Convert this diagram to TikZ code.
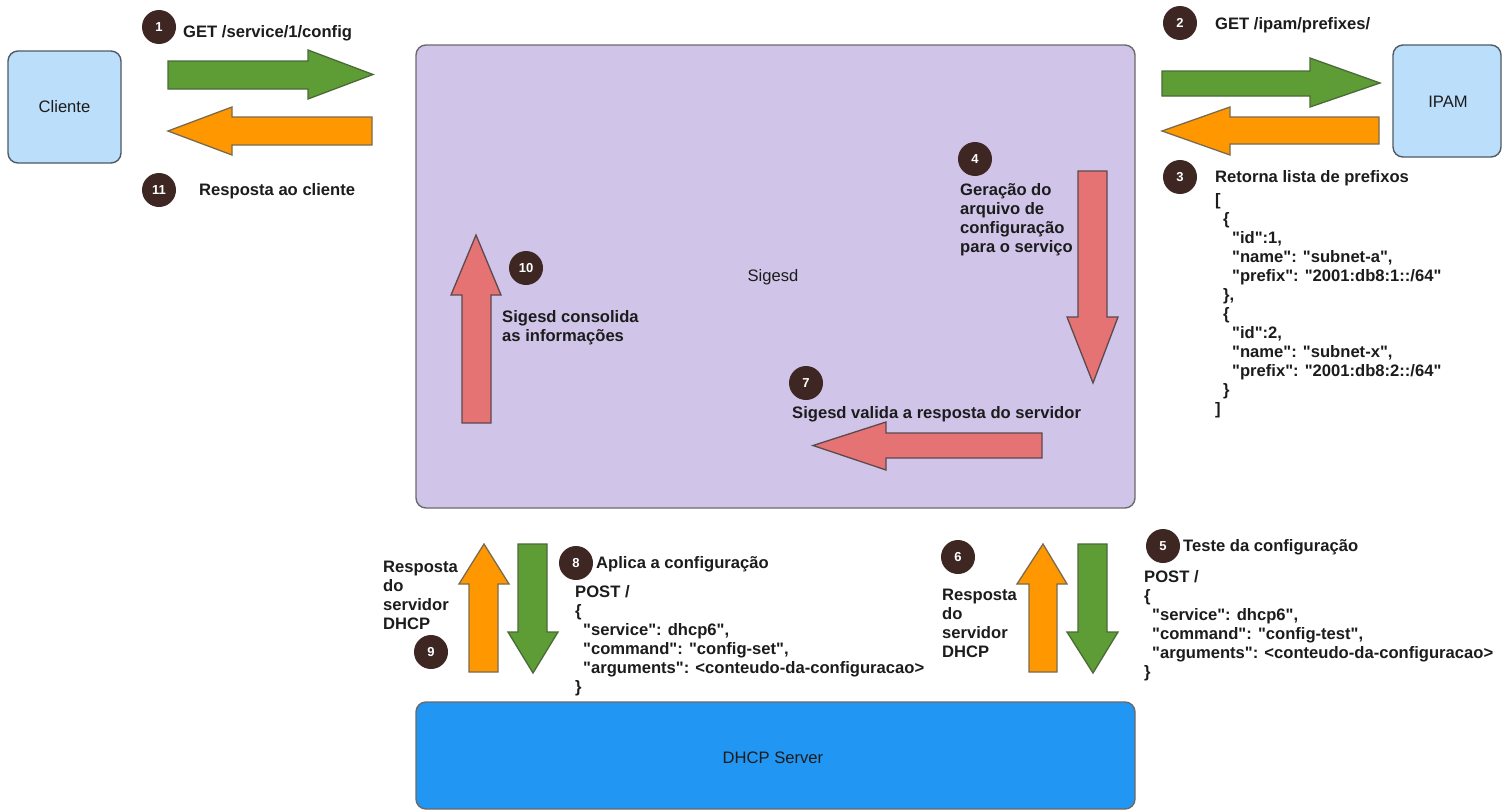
\documentclass[tikz,border=0pt]{standalone}
\usepackage{fontspec}
\setmainfont{Liberation Sans}[Ligatures=TeXOff]
\definecolor{bluelt}{HTML}{BBDEFB}
\definecolor{bluebd}{HTML}{4E5A66}
\definecolor{purp}{HTML}{D1C4E9}
\definecolor{purpbd}{HTML}{6A6A6A}
\definecolor{dhcpblue}{HTML}{2196F3}
\definecolor{grn}{HTML}{5E9C36}
\definecolor{grnbd}{HTML}{4A6B38}
\definecolor{org}{HTML}{FF9800}
\definecolor{orgbd}{HTML}{7A6A50}
\definecolor{redar}{HTML}{E57373}
\definecolor{redbd}{HTML}{5A4A4E}
\definecolor{numbr}{HTML}{3E2723}
\definecolor{txt}{HTML}{1C1C1C}
\tikzset{
  box/.style={draw=bluebd, line width=1.4pt, rounded corners=10pt},
  num/.style={circle, fill=numbr, text=white, minimum size=34pt, inner sep=0pt,
    font=\bfseries\fontsize{13}{13}\selectfont},
  lbl/.style={inner sep=0pt, anchor=base west, align=left, text=txt,
    font=\bfseries\fontsize{16.6}{19}\selectfont},
  plain/.style={inner sep=0pt, text=txt, font=\fontsize{16.6}{19}\selectfont},
  greenarrow/.style={fill=grn, draw=grnbd, line width=1.3pt, line join=miter},
  orangearrow/.style={fill=org, draw=orgbd, line width=1.3pt, line join=miter},
  redarrow/.style={fill=redar, draw=redbd, line width=1.3pt, line join=miter},
}
\begin{document}
\begin{tikzpicture}[x=1pt,y=-1pt]
\useasboundingbox (0,0) rectangle (1502,811);
\fill[white] (0,0) rectangle (1502,811);

% main boxes
\draw[box, fill=bluelt] (8,51) rectangle (121,163);
\node[plain] (cliente) at (64.5,107) {Cliente};
\draw[box, fill=bluelt] (1393,45) rectangle (1501,157);
\node[plain] (ipam) at (1448,102) {IPAM};
\draw[box, fill=purp, draw=purpbd] (416,45) rectangle (1135,508);
\node[plain] (sigesd) at (773,277) {Sigesd};
\draw[box, fill=dhcpblue, draw=purpbd] (416,702) rectangle (1135,809);
\node[plain] (dhcp) at (773,758) {DHCP Server};

% arrows: Cliente <-> Sigesd
\draw[greenarrow] (168,61) -- (308,61) -- (308,50) -- (373,74.5) -- (308,99) -- (308,89) -- (168,89) -- cycle;
\draw[orangearrow] (372,117) -- (232,117) -- (232,107) -- (168,131) -- (232,155) -- (232,145) -- (372,145) -- cycle;
% Sigesd <-> IPAM
\draw[greenarrow] (1162,71) -- (1310,71) -- (1310,58) -- (1380,83) -- (1310,107) -- (1310,96) -- (1162,96) -- cycle;
\draw[orangearrow] (1379,117) -- (1230,117) -- (1230,107) -- (1162,131) -- (1230,155) -- (1230,144) -- (1379,144) -- cycle;
% inside Sigesd
\draw[redarrow] (1078,171) -- (1107,171) -- (1107,317) -- (1118,317) -- (1093,383) -- (1067,317) -- (1078,317) -- cycle;
\draw[redarrow] (1042,433) -- (886,433) -- (886,422) -- (813,445.5) -- (886,470) -- (886,458) -- (1042,458) -- cycle;
\draw[redarrow] (462,423) -- (462,295) -- (451,295) -- (476,235) -- (501,295) -- (491,295) -- (491,423) -- cycle;
% Sigesd <-> DHCP
\draw[orangearrow] (469,672) -- (469,584) -- (459,584) -- (484,544) -- (509,584) -- (498,584) -- (498,672) -- cycle;
\draw[greenarrow] (518,544) -- (547,544) -- (547,632) -- (558,632) -- (533,673) -- (508,632) -- (518,632) -- cycle;
\draw[orangearrow] (1029,672) -- (1029,584) -- (1017,584) -- (1043,544) -- (1067,584) -- (1057,584) -- (1057,672) -- cycle;
\draw[greenarrow] (1078,544) -- (1107,544) -- (1107,632) -- (1118,632) -- (1093,673) -- (1067,632) -- (1078,632) -- cycle;

% step numbers
\node[num] (n1) at (159,27) {1};
\node[num] (n11) at (159,190) {11};
\node[num] (n2) at (1180,23) {2};
\node[num] (n3) at (1180,177) {3};
\node[num] (n4) at (975,159) {4};
\node[num] (n10) at (526,268) {10};
\node[num] (n7) at (806,383) {7};
\node[num] (n8) at (576,563) {8};
\node[num] (n9) at (431,652) {9};
\node[num] (n6) at (958,557) {6};
\node[num] (n5) at (1163,546) {5};

% labels (multi-line nodes anchored at the baseline of their last line)
\node[lbl] (l1) at (183,37) {GET /service/1/config};
\node[lbl] (l11) at (199,195) {Resposta ao cliente};
\node[lbl] (l2) at (1215,29) {GET /ipam/prefixes/};
\node[lbl] (l3) at (1215,182) {Retorna lista de prefixos};
\node[lbl] (json) at (1215,414) {[\\
\hspace*{8pt}\{\\
\hspace*{17pt}"id":1,\\
\hspace*{17pt}"name": "subnet-a",\\
\hspace*{17pt}"prefix": "2001:db8:1::/64"\\
\hspace*{8pt}\},\\
\hspace*{8pt}\{\\
\hspace*{17pt}"id":2,\\
\hspace*{17pt}"name": "subnet-x",\\
\hspace*{17pt}"prefix": "2001:db8:2::/64"\\
\hspace*{8pt}\}\\
]};
\node[lbl] (l4) at (960,252) {Geração do\\arquivo de\\configuração\\para o serviço};
\node[lbl] (l7) at (792,418) {Sigesd valida a resposta do servidor};
\node[lbl] (l10) at (502,341) {Sigesd consolida\\as informações};
\node[lbl] (l9) at (383,629) {Resposta\\do\\servidor\\DHCP};
\node[lbl] (l6) at (942,657) {Resposta\\do\\servidor\\DHCP};
\node[lbl] (l8) at (596,568) {Aplica a configuração};
\node[lbl] (post8) at (575,692) {POST /\\
\{\\
\hspace*{8pt}"service": dhcp6",\\
\hspace*{8pt}"command": "config-set",\\
\hspace*{8pt}"arguments": <conteudo-da-configuracao>\\
\}};
\node[lbl] (l5) at (1183,551) {Teste da configuração};
\node[lbl] (post5) at (1144,677) {POST /\\
\{\\
\hspace*{8pt}"service": dhcp6",\\
\hspace*{8pt}"command": "config-test",\\
\hspace*{8pt}"arguments": <conteudo-da-configuracao>\\
\}};
\end{tikzpicture}
\end{document}
